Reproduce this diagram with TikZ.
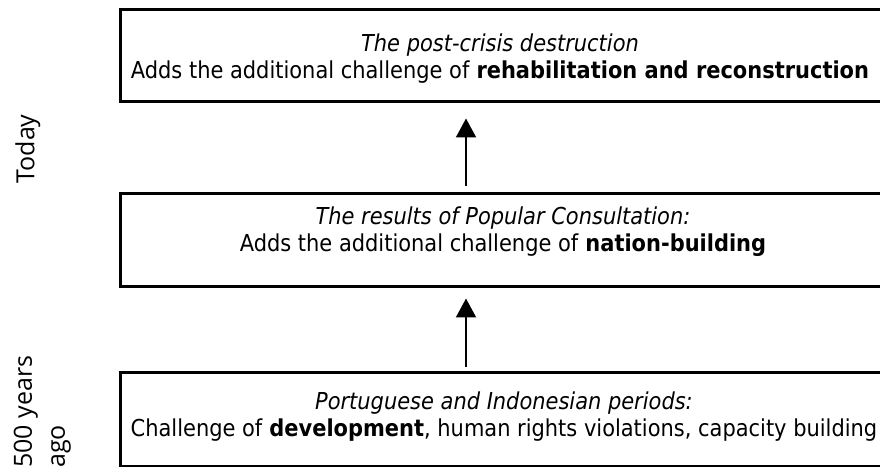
\documentclass[tikz,border=0pt]{standalone}
\usepackage{fontspec}
\setmainfont{DejaVu Sans Condensed}
\newfontfamily\sidefont{Open Sans}
\usetikzlibrary{arrows.meta}
\begin{document}
\begin{tikzpicture}[x=1pt,y=1pt,
  stage/.style={draw=black,line width=3pt,minimum width=766pt,inner sep=0pt},
  stagetext/.style={align=center,font=\fontsize{23.3}{27}\selectfont,inner sep=0pt},
  side/.style={rotate=90,font=\sidefont\fontsize{25}{33}\selectfont,inner sep=0pt},
  up/.style={line width=2pt,-{Triangle[width=20pt,length=19pt]}}]
\useasboundingbox (0,0) rectangle (880,466);
\clip (0,0) rectangle (880,466);

% the three stages, oldest at the bottom
\node[stage,minimum height=92pt] (now) at (503,410) {};
\node[stage,minimum height=93pt] (vote) at (503,225.5) {};
\node[stage,minimum height=94pt] (past) at (503,47) {};

\node[stagetext] (nowtext) at (500,407)
  {\textit{The post-crisis destruction}\\Adds the additional challenge of \textbf{rehabilitation and reconstruction}};
\node[stagetext] (votetext) at (503,234.5)
  {\textit{The results of Popular Consultation:}\\Adds the additional challenge of \textbf{nation-building}};
\node[stagetext] (pasttext) at (504,49.5)
  {\textit{Portuguese and Indonesian periods:}\\Challenge of \textbf{development}, human rights violations, capacity building};

% time axis labels
\node[side] (today) at (28,317) {Today};
\node[side,anchor=south west,align=left] (ago) at (71,-2) {500 years\\ago};

% progression arrows
\draw[up] ([xshift=-37pt,yshift=6pt]vote.north) -- ([xshift=-37pt,yshift=-15pt]now.south);
\draw[up] ([xshift=-37pt,yshift=4pt]past.north) -- ([xshift=-37pt,yshift=-10pt]vote.south);
\end{tikzpicture}
\end{document}
